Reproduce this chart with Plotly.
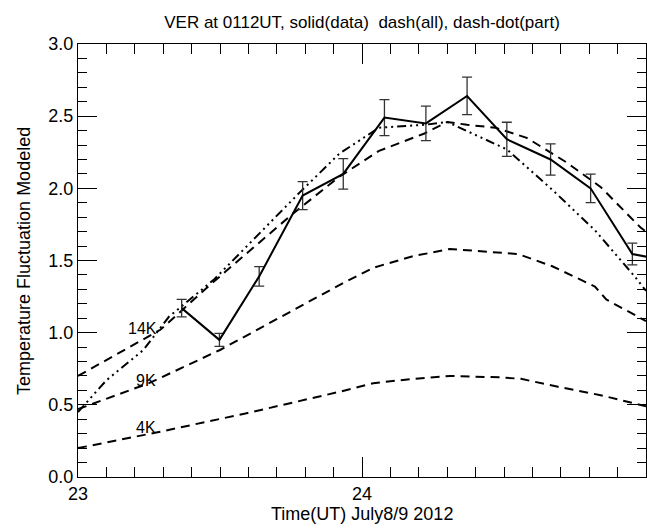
import plotly.graph_objects as go

# Data (solid line with error bars)
data_x = [23.365, 23.498, 23.638, 23.791, 23.934, 24.079, 24.225, 24.370, 24.510, 24.664, 24.805, 24.952, 25.097]
data_y = [1.17, 0.95, 1.39, 1.95, 2.10, 2.49, 2.45, 2.64, 2.34, 2.20, 2.00, 1.545, 1.49]
data_err = [0.06, 0.045, 0.067, 0.097, 0.106, 0.125, 0.12, 0.13, 0.118, 0.108, 0.099, 0.075, 0.07]

# Model: all (dashed) 14K
k14_x = [23.0, 23.29, 23.47, 23.76, 23.92, 24.06, 24.22, 24.30, 24.37, 24.47, 24.58, 24.72, 24.84, 24.98, 25.0]
k14_y = [0.70, 1.02, 1.34, 1.83, 2.08, 2.26, 2.38, 2.46, 2.44, 2.42, 2.35, 2.18, 2.01, 1.73, 1.70]

# Model: part (dash-dot-dot)
part_x = [23.0, 23.10, 23.23, 23.32, 23.40, 23.48, 23.78, 23.92, 24.06, 24.22, 24.30, 24.51, 24.67, 24.82, 24.96, 25.0]
part_y = [0.45, 0.67, 0.88, 1.11, 1.24, 1.37, 1.97, 2.24, 2.42, 2.44, 2.46, 2.27, 1.99, 1.71, 1.39, 1.29]

# Model 9K (dashed)
k9_x = [23.0, 23.25, 23.50, 23.93, 24.04, 24.18, 24.31, 24.45, 24.55, 24.67, 24.82, 24.86, 24.98, 25.0]
k9_y = [0.47, 0.65, 0.88, 1.34, 1.45, 1.53, 1.58, 1.56, 1.545, 1.46, 1.32, 1.23, 1.10, 1.08]

# Model 4K (dashed)
k4_x = [23.0, 23.28, 23.59, 23.92, 24.04, 24.18, 24.31, 24.49, 24.56, 24.69, 24.84, 24.98, 25.0]
k4_y = [0.20, 0.31, 0.44, 0.59, 0.65, 0.68, 0.70, 0.69, 0.68, 0.625, 0.567, 0.50, 0.49]

label_text = ["14K", "9K", "4K"]
label_x = [23.226, 23.239, 23.239]
label_y = [1.03, 0.67, 0.34]

x_alias = {25: "1"}

FONT = "Liberation Sans, Arial, Helvetica, sans-serif"
DASH = "9px,6px"
DDD = "9px,4px,2px,4px,2px,4px,2px,4px"

fig = go.Figure()

for xs, ys in [(k4_x, k4_y), (k9_x, k9_y), (k14_x, k14_y)]:
    fig.add_trace(go.Scatter(x=xs, y=ys, mode="lines",
                             line=dict(color="black", width=2, dash=DASH)))

fig.add_trace(go.Scatter(x=part_x, y=part_y, mode="lines",
                         line=dict(color="black", width=2, dash=DDD)))

fig.add_trace(go.Scatter(x=data_x, y=data_y, mode="lines",
                         line=dict(color="black", width=2),
                         error_y=dict(type="data", array=data_err, visible=True,
                                      color="#333333", thickness=1.3, width=5)))

for t, lx, ly in zip(label_text, label_x, label_y):
    fig.add_annotation(x=lx, y=ly, text=t, showarrow=False,
                       font=dict(family=FONT, size=16, color="black"),
                       xanchor="center", yanchor="middle")

# axis titles as paper-positioned text
fig.add_annotation(x=0.5, y=-0.086, xref="paper", yref="paper", yanchor="middle",
                   text="Time(UT) July8/9 2012", showarrow=False,
                   font=dict(family=FONT, size=18, color="black"))
fig.add_annotation(x=-0.096, y=0.5, xref="paper", yref="paper", xanchor="center",
                   text="Temperature Fluctuation Modeled", showarrow=False, textangle=-90,
                   font=dict(family=FONT, size=18, color="black"))

fig.update_layout(
    template="simple_white",
    width=647, height=529,
    margin=dict(l=78, r=1, t=44, b=52),
    title=dict(text="VER at 0112UT, solid(data)\u00a0\u00a0dash(all), dash-dot(part)",
               x=0.5, xref="paper", xanchor="center", y=0.97, yref="container",
               font=dict(family=FONT, size=17, color="black")),
    showlegend=False,
)

fig.update_xaxes(range=[23, 25], dtick=1, labelalias=x_alias,
                 ticks="inside", ticklen=20, tickcolor="black",
                 showline=True, linecolor="black", mirror="ticks",
                 minor=dict(ticks="inside", ticklen=10, dtick=0.1, tickcolor="black"),
                 tickfont=dict(family=FONT, size=18, color="black"))
fig.update_yaxes(range=[0, 3], dtick=0.5, tickformat=".1f",
                 ticks="inside", ticklen=19, tickcolor="black",
                 showline=True, linecolor="black", mirror="ticks",
                 minor=dict(ticks="inside", ticklen=9, dtick=0.1, tickcolor="black"),
                 tickfont=dict(family=FONT, size=18, color="black"))

fig.write_html("out.html")
